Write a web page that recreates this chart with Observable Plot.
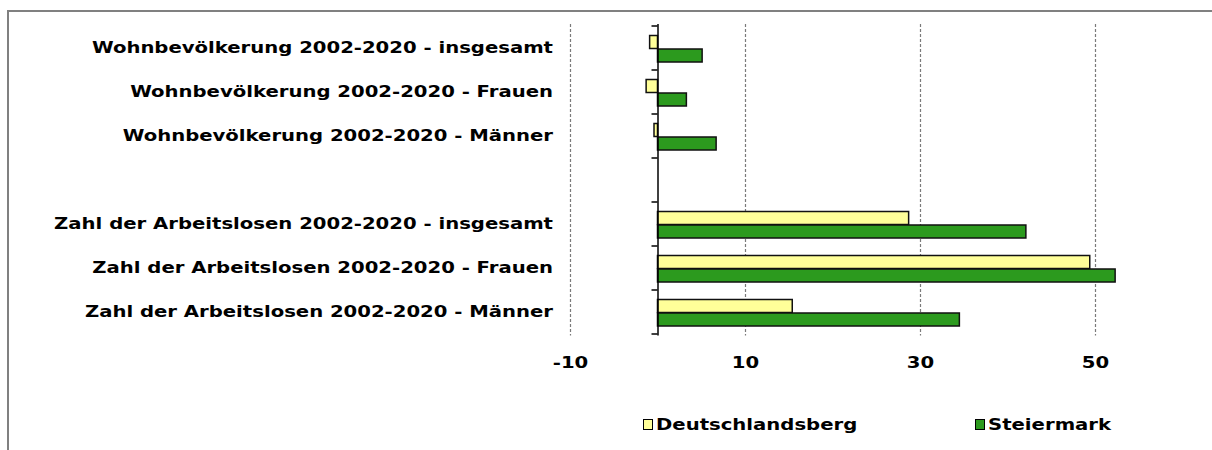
<!DOCTYPE html>
<html>
<head>
<meta charset="utf-8">
<script src="https://cdn.jsdelivr.net/npm/d3@7"></script>
<script src="https://cdn.jsdelivr.net/npm/@observablehq/plot@0.6"></script>
<style>
  html, body { margin: 0; padding: 0; background: #fff; overflow: hidden; }
  #wrap { position: relative; width: 1212px; height: 450px; }
  #frame { position: absolute; left: 7px; top: 10px; width: 1400px; height: 600px;
           border-left: 2px solid #808080; border-top: 2px solid #808080; pointer-events: none; }
  .leg { position: absolute; top: 416px; font: bold 15px "DejaVu Sans", Verdana, sans-serif; color: #000; white-space: nowrap; }
  .sw { display: inline-block; width: 8px; height: 9px; border: 1px solid #000; margin-right: 3px; vertical-align: 0px; }
  .lt { display: inline-block; transform: scaleX(1.31); transform-origin: 0 50%; }
</style>
</head>
<body>
<div id="wrap">
  <div id="chart"></div>
  <div id="frame"></div>
  <div id="legend"></div>
</div>
<script>
const categories = [
  "Wohnbevölkerung 2002-2020 - insgesamt",
  "Wohnbevölkerung 2002-2020 - Frauen",
  "Wohnbevölkerung 2002-2020 - Männer",
  " ",
  "Zahl der Arbeitslosen 2002-2020 - insgesamt",
  "Zahl der Arbeitslosen 2002-2020 - Frauen",
  "Zahl der Arbeitslosen 2002-2020 - Männer"
];
const seriesNames = ["Deutschlandsberg", "Steiermark"];
const deutschlandsberg = [-0.9, -1.3, -0.4, null, 28.7, 49.4, 15.4];
const steiermark = [5.1, 3.3, 6.7, null, 42.1, 52.3, 34.5];
const xTicks = [-10, 10, 30, 50];
const colors = ["#ffff99", "#2c9a1e"];
const stretch = 1.31;

const dData = categories.map((c, i) => ({category: c, value: deutschlandsberg[i]})).filter(d => d.value != null);
const sData = categories.map((c, i) => ({category: c, value: steiermark[i]})).filter(d => d.value != null);

const W = 1212, H = 390;
const chart = Plot.plot({
  width: W,
  height: H,
  marginLeft: 570,
  marginRight: 29.5,
  marginTop: 24,
  marginBottom: 54.5,
  x: {domain: [-10, 60], label: null},
  y: {domain: categories, padding: 0, label: null},
  style: {fontFamily: "'DejaVu Sans', Verdana, sans-serif", fontWeight: "bold", fontSize: "15px", color: "#000", background: "transparent", overflow: "visible"},
  marks: [
    Plot.gridX(xTicks, {stroke: "#7a7a7a", strokeOpacity: 1, strokeWidth: 1.2, strokeDasharray: "3,2"}),
    Plot.axisX(xTicks, {tickSize: 0, tickPadding: 21, tickFormat: d => String(d), label: null}),
    Plot.axisY({tickSize: 0, tickPadding: 17.5, label: null}),
    Plot.barX(dData, {y: "category", x: "value", fill: colors[0], stroke: "#111", strokeWidth: 1.5, insetTop: 9.5, insetBottom: 21.5}),
    Plot.barX(sData, {y: "category", x: "value", fill: colors[1], stroke: "#111", strokeWidth: 1.5, insetTop: 23, insetBottom: 8}),
    Plot.ruleX([0], {stroke: "#000", strokeWidth: 1.5}),
    (index, scales) => {
      const g = d3.create("svg:g").attr("stroke", "#000").attr("stroke-width", 1.5);
      const y = scales.y, x0 = scales.x(0);
      const bw = y(categories[1]) - y(categories[0]);
      const bounds = categories.map(c => y(c)).concat([y(categories[categories.length - 1]) + bw]);
      for (const b of bounds) {
        g.append("line").attr("x1", x0 - 6).attr("x2", x0).attr("y1", b).attr("y2", b);
      }
      return g.node();
    }
  ]
});
// horizontally stretch text glyphs around their anchor points
chart.querySelectorAll("text").forEach(t => {
  const tr = t.getAttribute("transform");
  if (tr) {
    t.setAttribute("transform", tr + ` scale(${stretch},1)`);
  } else {
    const x = +t.getAttribute("x") || 0, y = +t.getAttribute("y") || 0;
    t.removeAttribute("x"); t.removeAttribute("y");
    t.setAttribute("transform", `translate(${x},${y}) scale(${stretch},1)`);
  }
});
document.getElementById("chart").appendChild(chart);

const legend = document.getElementById("legend");
const legX = [643, 975];
seriesNames.forEach((name, i) => {
  const d = document.createElement("div");
  d.className = "leg";
  d.style.left = legX[i] + "px";
  d.innerHTML = `<span class="sw" style="background:${colors[i]}"></span><span class="lt">${name}</span>`;
  legend.appendChild(d);
});
</script>
</body>
</html>
